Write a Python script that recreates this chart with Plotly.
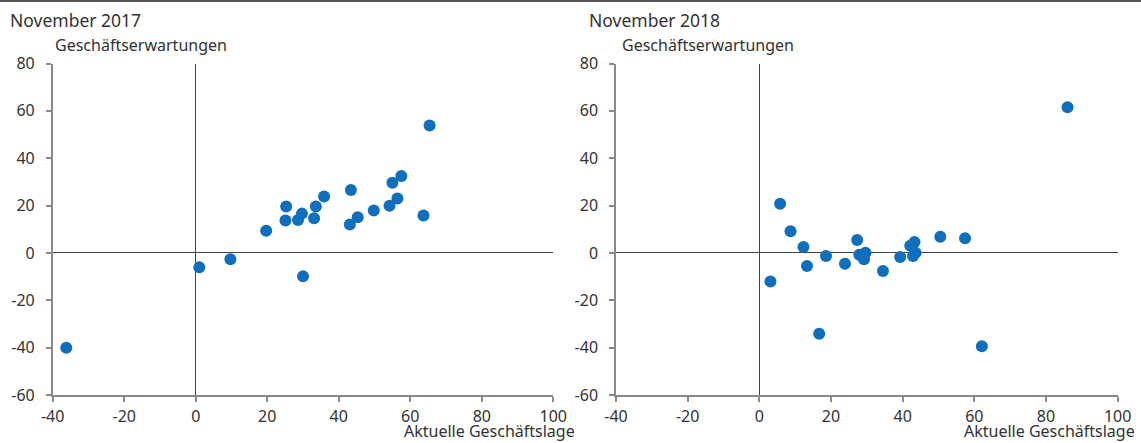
import plotly.graph_objects as go

# November 2017: aktuelle Geschäftslage (x) vs. Geschäftserwartungen (y)
lage_2017 = [-36.2, 1.0, 9.7, 19.7, 25.1, 25.3, 28.6, 29.7, 30.0, 33.1, 33.6,
             35.9, 43.1, 43.4, 45.3, 49.8, 54.2, 55.0, 56.4, 57.5, 63.7, 65.4]
erw_2017 = [-40.0, -6.1, -2.7, 9.4, 13.7, 19.6, 13.9, 16.6, -9.9, 14.6, 19.6,
            23.8, 12.0, 26.6, 15.1, 17.9, 19.9, 29.6, 23.0, 32.5, 15.8, 53.8]

# November 2018
lage_2018 = [3.1, 5.8, 8.7, 12.3, 13.3, 16.7, 18.6, 23.9, 27.3, 27.9, 29.2,
             29.6, 34.5, 39.3, 42.1, 42.9, 43.3, 43.6, 50.5, 57.4, 62.1, 86.0]
erw_2018 = [-12.1, 20.8, 9.2, 2.5, -5.5, -34.1, -1.3, -4.6, 5.5, -0.8, -2.7,
            0.1, -7.6, -1.7, 3.0, -1.3, 4.6, 0.1, 6.8, 6.2, -39.4, 61.5]

titles = ["November 2017", "November 2018"]
x_ticks = [-40, -20, 0, 20, 40, 60, 80, 100]
y_ticks = [-60, -40, -20, 0, 20, 40, 60, 80]

W, H = 1141, 443
FONT = "Noto Sans"
TXT = "#333333"
BLUE = "#0F6FBD"
AXIS = "#8a8a8a"

fig = go.Figure()
fig.add_trace(go.Scatter(x=lage_2017, y=erw_2017, mode="markers",
                         marker=dict(color=BLUE, size=12),
                         xaxis="x", yaxis="y", showlegend=False))
fig.add_trace(go.Scatter(x=lage_2018, y=erw_2018, mode="markers",
                         marker=dict(color=BLUE, size=12),
                         xaxis="x2", yaxis="y2", showlegend=False))

ydom = [1 - 395 / H, 1 - 63.5 / H]
xdoms = [[52.7 / W, 553.3 / W], [616 / W, 1117.7 / W]]

ax_common = dict(showline=True, linecolor=AXIS, linewidth=1.5, automargin=False,
                 ticks="outside", ticklen=5, tickcolor=AXIS, tickwidth=1.5,
                 showgrid=False, zeroline=True, zerolinecolor="#444444",
                 zerolinewidth=1, tickfont=dict(family=FONT, size=16, color=TXT))

layout = dict(
    width=W, height=H,
    margin=dict(l=0, r=0, t=0, b=0),
    paper_bgcolor="white", plot_bgcolor="white",
    font=dict(family=FONT, color=TXT),
    showlegend=False,
)
for i, suffix in enumerate(["", "2"]):
    layout["xaxis" + suffix] = dict(ax_common, domain=xdoms[i], range=[-40, 100],
                                    tickvals=x_ticks, ticktext=[str(v) for v in x_ticks],
                                    anchor="y" + suffix, ticklabelstandoff=1)
    layout["yaxis" + suffix] = dict(ax_common, domain=ydom, range=[-60, 80],
                                    tickvals=y_ticks, ticktext=[str(v) for v in y_ticks],
                                    anchor="x" + suffix, ticklabelstandoff=8)
fig.update_layout(**layout)

# top rule
fig.add_shape(type="line", xref="paper", yref="paper", x0=0, x1=1, y0=1, y1=1,
              line=dict(color="#555555", width=4))

annos = []
for i, t in enumerate(titles):
    annos.append(dict(text=t, x=[8, 587][i] / W, y=1 - 20 / H, xref="paper", yref="paper",
                      xanchor="left", yanchor="middle", showarrow=False,
                      font=dict(family=FONT, size=17.5, color=TXT)))
    annos.append(dict(text="Geschäftserwartungen", x=[53, 620][i] / W, y=1 - 45 / H,
                      xref="paper", yref="paper", xanchor="left", yanchor="middle",
                      showarrow=False, font=dict(family=FONT, size=16, color=TXT)))
    annos.append(dict(text="Aktuelle Geschäftslage", x=[577, 1137][i] / W, y=1 - 431 / H,
                      xref="paper", yref="paper", xanchor="right", yanchor="middle",
                      showarrow=False, font=dict(family=FONT, size=16, color=TXT)))
fig.update_layout(annotations=annos)

fig.write_html("out.html", config={"displayModeBar": False},
               post_script="document.body.style.margin='0';"
                           "document.body.style.overflow='hidden';")
